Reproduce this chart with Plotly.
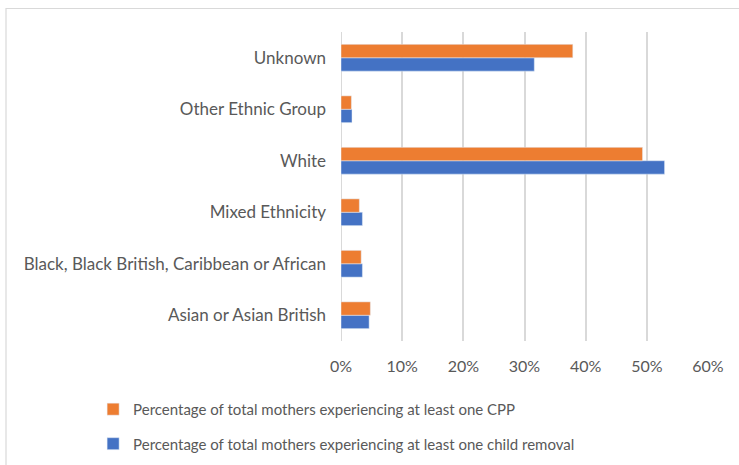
import plotly.graph_objects as go

# Ethnic groups, bottom to top
categories = [
    "Asian or Asian British",
    "Black, Black British, Caribbean or African",
    "Mixed Ethnicity",
    "White",
    "Other Ethnic Group",
    "Unknown",
]
# Share of total mothers (fractions)
child_removal = [0.046, 0.035, 0.035, 0.529, 0.018, 0.316]
cpp = [0.048, 0.033, 0.030, 0.493, 0.017, 0.379]

x_ticks = [0, 0.1, 0.2, 0.3, 0.4, 0.5, 0.6]

BLUE = "#4472C4"
ORANGE = "#ED7D31"
GREY_TEXT = "#595959"
GRID = "#D9D9D9"
FONT = "Lato, 'Open Sans', sans-serif"

fig = go.Figure()
fig.add_trace(go.Bar(
    y=categories, x=child_removal, orientation="h",
    name="Percentage of total mothers experiencing at least one child removal",
    marker=dict(color=BLUE), legendgroup="b", legendrank=2,
))
fig.add_trace(go.Bar(
    y=categories, x=cpp, orientation="h",
    name="Percentage of total mothers experiencing at least one CPP",
    marker=dict(color=ORANGE), legendgroup="a", legendrank=1,
))

fig.update_layout(
    width=739, height=465,
    margin=dict(l=341, r=31, t=32, b=124, autoexpand=False),
    paper_bgcolor="white", plot_bgcolor="white",
    barmode="group", bargap=0.48, bargroupgap=0,
    font=dict(family=FONT, size=15, color=GREY_TEXT),
    legend=dict(
        traceorder="grouped", tracegroupgap=12,
        xref="container", yref="container",
        x=0.126, y=0.155, xanchor="left", yanchor="top",
        font=dict(size=15, color=GREY_TEXT),
        itemwidth=30,
    ),
    xaxis=dict(
        range=[0, 0.6], tickvals=x_ticks, tickformat=".0%",
        showgrid=True, gridcolor=GRID, gridwidth=2,
        zeroline=False, showline=False, ticks="",
        ticklabelstandoff=14, fixedrange=True, automargin=False,
        tickangle=0, tickfont=dict(size=16),
    ),
    yaxis=dict(
        categoryorder="array", categoryarray=categories,
        showgrid=False, zeroline=False, showline=False, ticks="",
        ticklabelstandoff=14, automargin=False, tickfont=dict(size=17),
    ),
    shapes=[
        # zero axis line
        dict(type="line", xref="x", yref="paper", x0=0, x1=0, y0=0, y1=1,
             line=dict(color=GRID, width=2), layer="below"),
        # chart area border
        dict(type="rect", xref="paper", yref="paper",
             x0=(6 - 341) / 367, x1=(760 - 341) / 367,
             y0=(341 - 480) / 309, y1=(341 - 8.5) / 309,
             line=dict(color=GRID, width=1.2), fillcolor="rgba(0,0,0,0)"),
    ],
)

fig.write_html("out.html")
